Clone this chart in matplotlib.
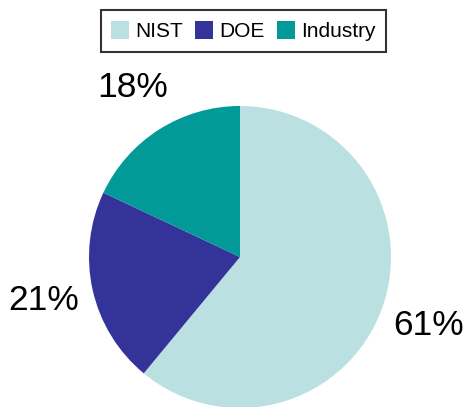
import matplotlib
matplotlib.use("Agg")
import matplotlib.pyplot as plt

plt.rcParams["font.family"] = ["Liberation Sans", "DejaVu Sans"]

# data
labels = ["NIST", "DOE", "Industry"]
shares = [61, 21, 18]
colors = ["#BAE0E2", "#343399", "#029999"]

fig = plt.figure(figsize=(4.64, 4.07), dpi=100)
W, H = 464, 407
cx, cy, r = 240, 257, 151
ax = fig.add_axes([(cx - r) / W, (H - cy - r) / H, 2 * r / W, 2 * r / H])

wedges, texts, autotexts = ax.pie(
    shares, colors=colors, startangle=90, counterclock=False,
    autopct="%d%%", pctdistance=1.33, radius=1,
    textprops={"fontsize": 25.5, "color": "black"},
    wedgeprops={"linewidth": 0},
)
for w in wedges:
    w.set_clip_on(False)
ax.set_xlim(-1, 1)
ax.set_ylim(-1, 1)
ax.set_aspect("equal")
ax.axis("off")

leg = fig.legend(
    wedges, labels, loc="center", bbox_to_anchor=(243.5 / W, 1 - 31 / H),
    ncol=3, fontsize=15, frameon=True, fancybox=False,
    handlelength=0.85, handleheight=1.0, handletextpad=0.3,
    columnspacing=0.6, borderpad=0.5, borderaxespad=0,
)
leg.get_frame().set_edgecolor("black")
leg.get_frame().set_linewidth(1.5)

fig.savefig("out.png", dpi=100)
